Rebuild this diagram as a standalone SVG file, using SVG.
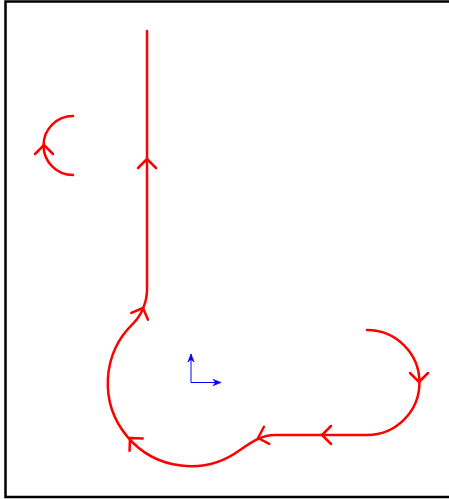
<svg xmlns="http://www.w3.org/2000/svg" xmlns:xlink="http://www.w3.org/1999/xlink" width="449" height="499" viewBox="0 0 449 499">
<style>
.frame{fill:none;stroke:#000;stroke-width:2.5}
.red{fill:none;stroke:#ff0000;stroke-width:2.5;stroke-linecap:round;stroke-linejoin:round}
.axis{fill:none;stroke:#0000ff;stroke-width:1}
</style>
<defs>
<path id="chev" d="M-9,-9 L0,0 L-9,9"/>
<marker id="ah" markerUnits="userSpaceOnUse" markerWidth="12" markerHeight="10" viewBox="-9 -5 10 10" refX="0" refY="0" orient="auto">
<path d="M-8,-3.2 L0,0 L-8,3.2 L-5.5,0 Z" fill="#0000ff" stroke="#0000ff" stroke-width="0.6"/>
</marker>
</defs>
<rect class="frame" x="5.5" y="1.5" width="447" height="495.5"/>
<g id="connectors">
<path id="main-path" class="red" d="M367,330 A52.5,52.5 0 0 1 367,435 L275,435 C262,435 253,441 240,450 A83,83 0 0 1 133.3,323.3 C141.3,315.3 147,302 147,290 L147,31"/>
<path id="left-arc" class="red" d="M73,175 A29,29 0 0 1 73,116"/>
<g class="red">
<use xlink:href="#chev" transform="translate(44,145) rotate(-90)"/>
<use xlink:href="#chev" transform="translate(147,159) rotate(-90)"/>
<use xlink:href="#chev" transform="translate(143,308) rotate(-68)"/>
<use xlink:href="#chev" transform="translate(419,382) rotate(90)"/>
<use xlink:href="#chev" transform="translate(322,435) rotate(180)"/>
<use xlink:href="#chev" transform="translate(258,438) rotate(163)"/>
<use xlink:href="#chev" transform="translate(130,438) rotate(-133)"/>
</g>
</g>
<g id="axes">
<line class="axis" x1="191" y1="382.5" x2="191" y2="354" marker-end="url(#ah)"/>
<line class="axis" x1="191" y1="382.5" x2="221" y2="382.5" marker-end="url(#ah)"/>
</g>
</svg>
